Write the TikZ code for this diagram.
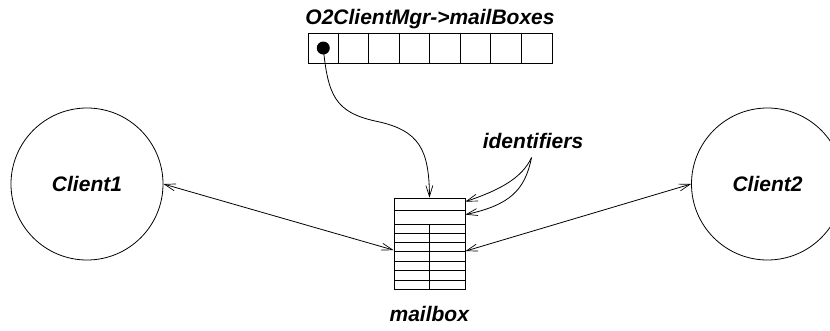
\documentclass[tikz,border=0pt]{standalone}
\usepackage{fontspec}
\setmainfont{Liberation Sans}
\usetikzlibrary{arrows.meta,calc}
\begin{document}
\begin{tikzpicture}[x=1pt,y=-1pt,line width=0.8pt,
  lbl/.style={font=\fontsize{21}{24}\selectfont\bfseries\itshape,inner sep=0pt},
  client/.style={circle,draw,minimum size=152pt,inner sep=0pt,
    font=\fontsize{21}{24}\selectfont\bfseries\itshape},
  barb/.style={-{Straight Barb[length=11pt,width=7pt,line width=0.7pt]}},
  dbarb/.style={{Straight Barb[length=11pt,width=7pt,line width=0.7pt]}-{Straight Barb[length=11pt,width=7pt,line width=0.7pt]}}]
\clip (0,0) rectangle (830,330);

% array of mail box pointers
\node[lbl,anchor=base] (title) at (430,24) {O2ClientMgr->mailBoxes};
\node[draw,line width=1pt,minimum width=244pt,minimum height=30pt,inner sep=0pt] (arr) at (430,48) {};
\foreach \i in {1,...,7}
  \draw[line width=1pt] ($(arr.north west)+(30.5*\i,0)$) -- ($(arr.south west)+(30.5*\i,0)$);
\node[circle,fill,minimum size=13pt,inner sep=0pt] (dot) at (323.25,48) {};

% the mailbox
\node[draw,minimum width=71pt,minimum height=91.5pt,inner sep=0pt] (mbox) at (429.5,243.75) {};
\foreach \y in {210,224,233.3,242.3,251.7,261.7,270.7,280}
  \draw (394,\y) -- (465,\y);
\draw (429.3,224) -- (429.3,289.5);
\node[lbl,anchor=base] (mlabel) at (429.3,321.7) {mailbox};

% clients
\node[client] (c1) at (87,184) {Client1};
\node[client] (c2) at (767.5,184) {Client2};

% anchor points on the mailbox
\coordinate (mleft) at ($(mbox.north west)+(0,52.5)$);
\coordinate (mright) at ($(mbox.north east)+(0,53.5)$);
\coordinate (mid1) at ($(mbox.north east)+(0,4)$);
\coordinate (mid2) at ($(mbox.north east)+(0,17)$);

% identifiers label
\node[lbl,anchor=base] (ids) at (533,148) {identifiers};
\coordinate (idsrc) at ($(ids.south)+(-1.5,9)$);

% connectors
\draw[dbarb] (c1.east) -- (mleft);
\draw[dbarb] (mright) -- (c2.west);
\draw[barb] (dot.center) .. controls (328,95) and (335,112) .. (375,121)
  .. controls (420,130) and (429,150) .. (mbox.north);
\draw[barb] (idsrc) .. controls (522,178) and (500,190) .. (mid1);
\draw[barb] (idsrc) .. controls (525,190) and (510,205) .. (mid2);
\end{tikzpicture}
\end{document}
